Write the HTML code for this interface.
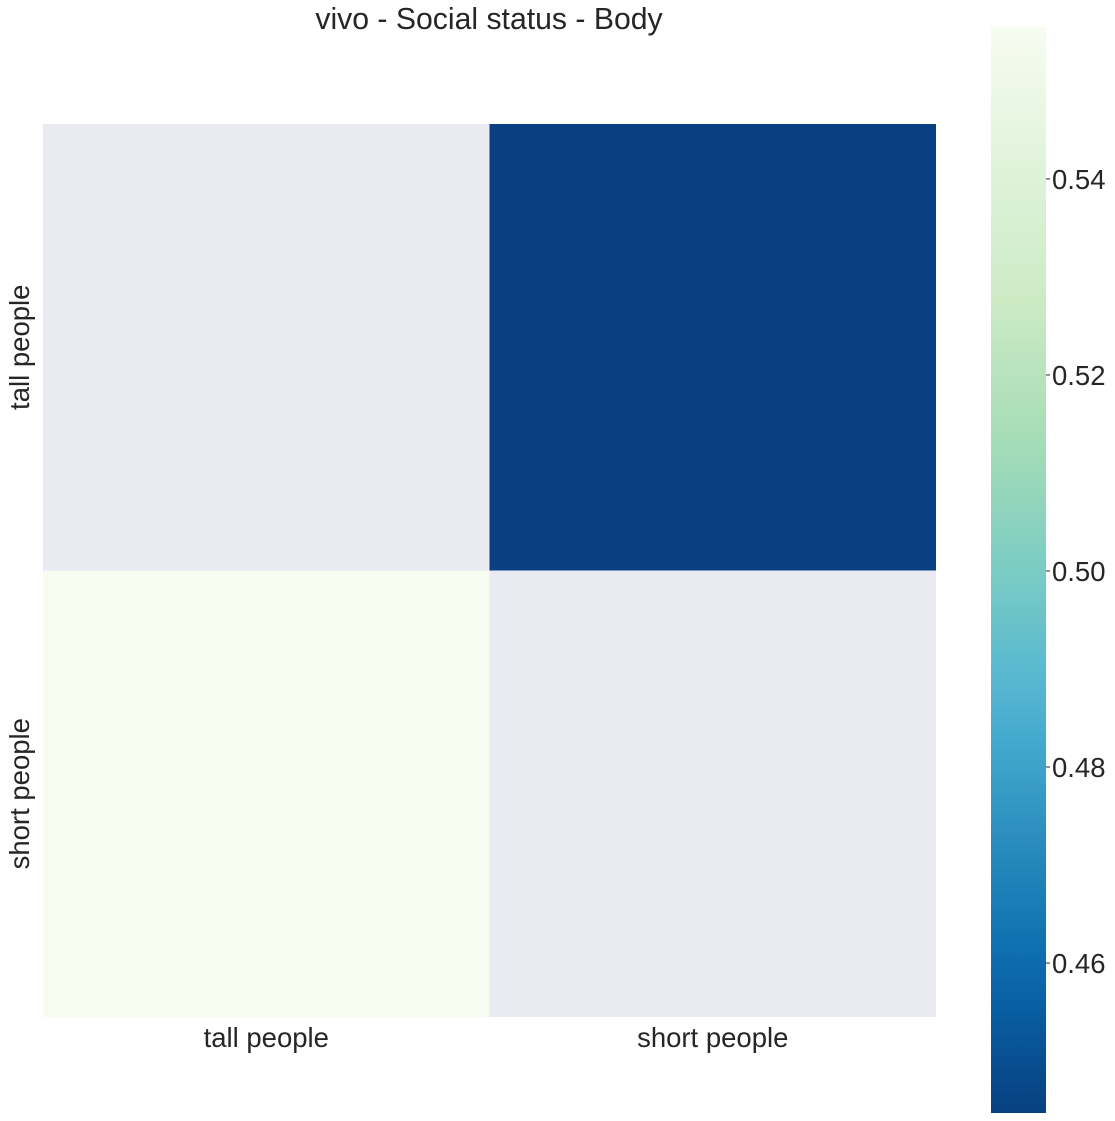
<!DOCTYPE html>
<html><head><meta charset="utf-8"><style>
body{margin:0;background:#fff;}
svg{display:block;font-family:"Liberation Sans",Arial,sans-serif;}
</style></head><body>
<svg id="chart" width="1115" height="1121"></svg>
<script>
const rowLabels = ["tall people", "short people"];
const colLabels = ["tall people", "short people"];
const values = [[null, 0.4447], [0.5555, null]];
const cbTicks = [0.46, 0.48, 0.50, 0.52, 0.54];
const vmin = 0.4447, vmax = 0.5555;

const NS = "http://www.w3.org/2000/svg";
const svg = document.getElementById("chart");
function mk(tag, attrs, parent) {
  const e = document.createElementNS(NS, tag);
  for (const k in attrs) e.setAttribute(k, attrs[k]);
  (parent || svg).appendChild(e);
  return e;
}
const stops = ["#084081","#0868ac","#2b8cbe","#4eb3d3","#7bccc4","#a8ddb5","#ccebc5","#e0f3db","#f7fcf0"];
function hex(h){return [1,3,5].map(i=>parseInt(h.substr(i,2),16));}
function cmap(t){
  t=Math.max(0,Math.min(1,t));
  const p=t*(stops.length-1), i=Math.min(Math.floor(p),stops.length-2), f=p-i;
  const a=hex(stops[i]), b=hex(stops[i+1]);
  return "rgb("+a.map((v,k)=>Math.round(v+(b[k]-v)*f)).join(",")+")";
}
const X0=43, Y0=124, W=893, H=893;
const cw=W/colLabels.length, ch=H/rowLabels.length;
const xPos=j=>X0+j*cw, yPos=i=>Y0+i*ch;

const title=mk("text",{x:489,y:29,"font-size":30.2,"text-anchor":"middle",fill:"#262626"});
title.textContent="vivo - Social status - Body";



values.forEach((row,i)=>row.forEach((v,j)=>{
  const r=mk("rect",{x:xPos(j),y:yPos(i),width:cw,height:ch,fill:v===null?"#eaeaf2":cmap((v-vmin)/(vmax-vmin))});
  
  
}));
colLabels.forEach((l,j)=>{
  const t=mk("text",{x:xPos(j)+cw/2,y:1047,"font-size":27.5,"text-anchor":"middle",fill:"#262626"});
  t.textContent=l;
  
  
});
rowLabels.forEach((l,i)=>{
  const cy=yPos(i)+ch/2;
  const t=mk("text",{x:0,y:0,"font-size":27.5,"text-anchor":"middle",fill:"#262626",transform:"translate(29,"+cy+") rotate(-90)"});
  t.textContent=l;
  
  
});
// colorbar
const CX=991, CW=55, CT=27, CB=1113;
const defs=mk("defs",{});
const grad=mk("linearGradient",{id:"cbg",x1:0,y1:1,x2:0,y2:0},defs);
for(let k=0;k<=20;k++){mk("stop",{offset:k/20,"stop-color":cmap(k/20)},grad);}
const cb=mk("rect",{x:CX,y:CT,width:CW,height:CB-CT,fill:"url(#cbg)"});


const cy=v=>CB-(v-vmin)/(vmax-vmin)*(CB-CT);
cbTicks.forEach(v=>{
  const y=cy(v);
  const ln=mk("line",{x1:CX+CW,x2:CX+CW+4,y1:y,y2:y,stroke:"#262626","stroke-width":1});
  
  
  const t=mk("text",{x:CX+CW+6,y:y+10,"font-size":27.5,fill:"#262626"});
  t.textContent=v.toFixed(2);
  
  
});
</script>
</body></html>
